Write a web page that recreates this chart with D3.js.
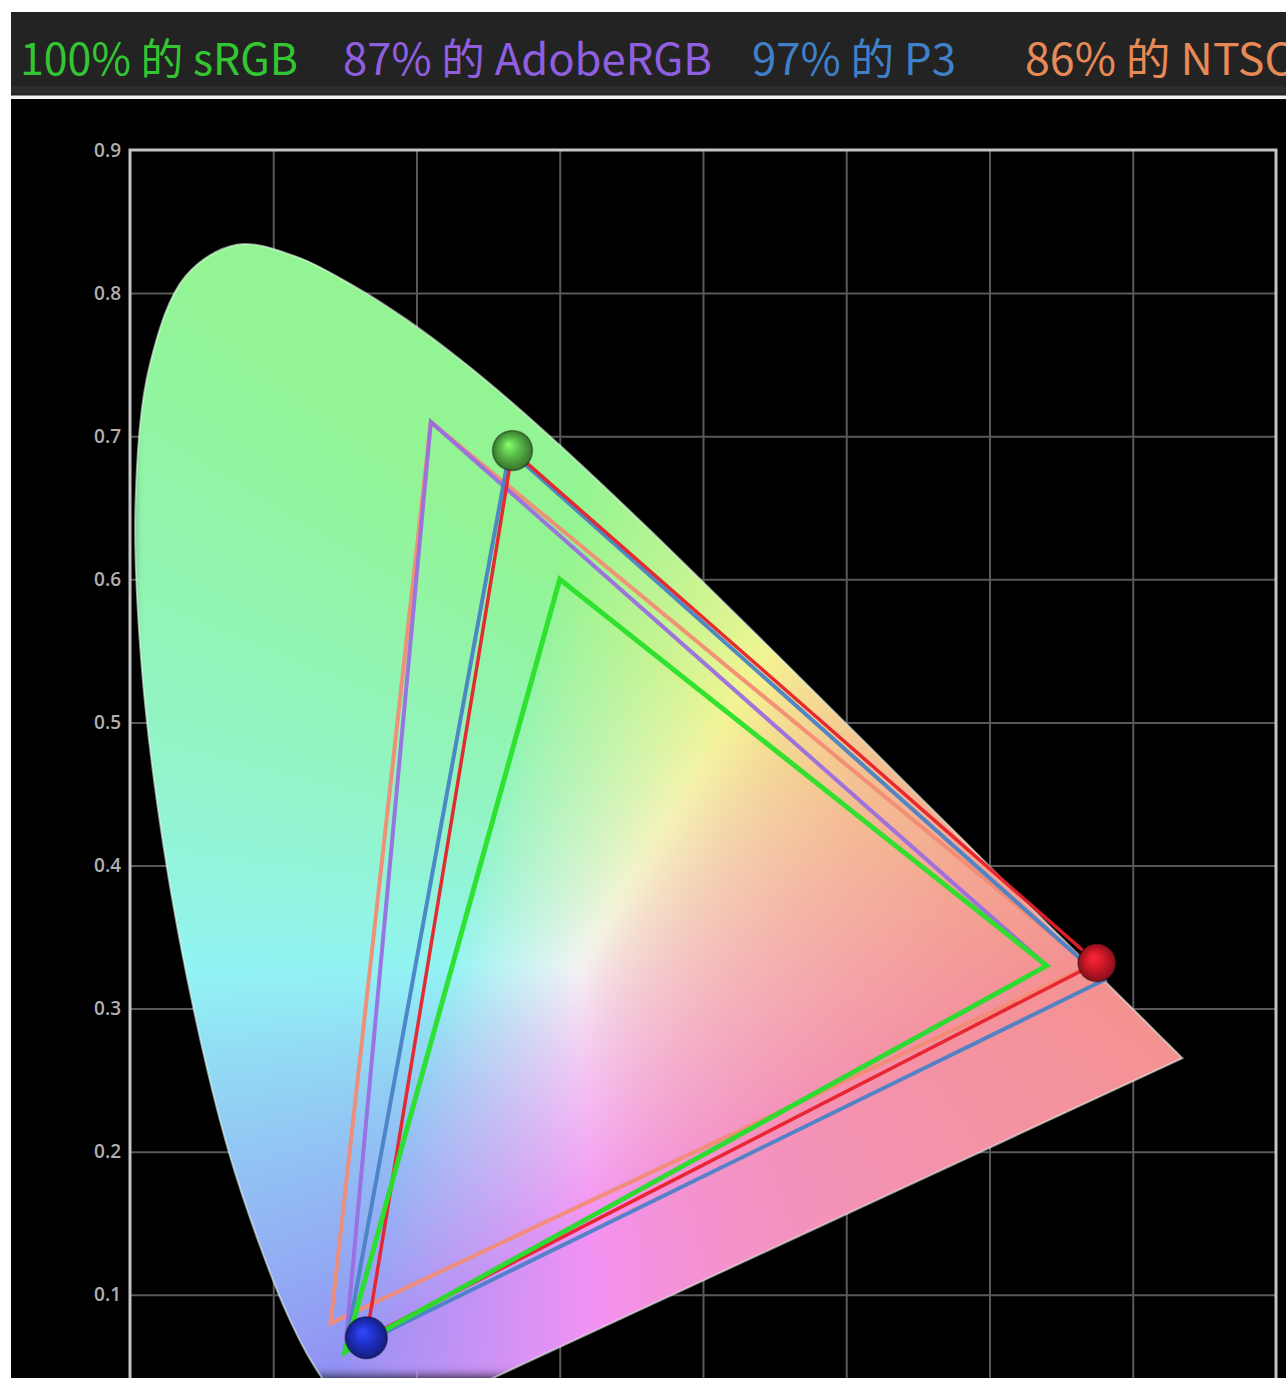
<!DOCTYPE html>
<html>
<head>
<meta charset="utf-8">
<script src="https://cdn.jsdelivr.net/npm/d3@7"></script>
<style>
  html, body { margin: 0; padding: 0; background: #fff; }
  svg { display: block; }
</style>
</head>
<body>
<div id="chart"></div>
<script>
// CIE 1931 2° spectral locus, 380–700 nm in 5 nm steps
const wavelengths = [380,385,390,395,400,405,410,415,420,425,430,435,440,445,450,455,460,465,470,475,480,485,490,495,500,505,510,515,520,525,530,535,540,545,550,555,560,565,570,575,580,585,590,595,600,605,610,615,620,625,630,635,640,645,650,655,660,665,670,675,680,685,690,695,700];
const locusX = [0.1741,0.1740,0.1738,0.1736,0.1733,0.1730,0.1726,0.1721,0.1714,0.1703,0.1689,0.1669,0.1644,0.1611,0.1566,0.1510,0.1440,0.1355,0.1241,0.1096,0.0913,0.0687,0.0454,0.0235,0.0082,0.0039,0.0139,0.0389,0.0743,0.1142,0.1547,0.1929,0.2296,0.2658,0.3016,0.3373,0.3731,0.4087,0.4441,0.4788,0.5125,0.5448,0.5752,0.6029,0.6270,0.6482,0.6658,0.6801,0.6915,0.7006,0.7079,0.7140,0.7190,0.7230,0.7260,0.7283,0.7300,0.7311,0.7320,0.7327,0.7334,0.7340,0.7344,0.7346,0.7347];
const locusY = [0.0050,0.0050,0.0049,0.0049,0.0048,0.0048,0.0048,0.0048,0.0051,0.0058,0.0069,0.0086,0.0109,0.0138,0.0177,0.0227,0.0297,0.0399,0.0578,0.0868,0.1327,0.2007,0.2950,0.4127,0.5384,0.6548,0.7502,0.8120,0.8338,0.8262,0.8059,0.7816,0.7543,0.7243,0.6923,0.6589,0.6245,0.5896,0.5547,0.5202,0.4866,0.4544,0.4242,0.3965,0.3725,0.3514,0.3340,0.3197,0.3083,0.2993,0.2920,0.2859,0.2809,0.2770,0.2740,0.2717,0.2700,0.2689,0.2680,0.2673,0.2666,0.2660,0.2656,0.2654,0.2653];

// Reference gamuts (R, G, B primaries as [x, y])
const gamutNames    = ["sRGB", "AdobeRGB", "P3", "NTSC"];
const gamutCoverage = [100, 87, 97, 86];
const gamutColors   = ["#33c633", "#8f5fe0", "#3f80c8", "#e88a58"];
const gamutStrokes  = ["#28e028", "#9a6ee0", "#4a82c6", "#f28c74"];
const srgbPrimaries  = [[0.64, 0.33], [0.30, 0.60], [0.15, 0.06]];
const adobePrimaries = [[0.64, 0.33], [0.21, 0.71], [0.15, 0.06]];
const p3Primaries    = [[0.68, 0.32], [0.265, 0.69], [0.15, 0.06]];
const ntscPrimaries  = [[0.67, 0.33], [0.21, 0.71], [0.14, 0.08]];

// Measured panel primaries
const panelPrimaries = [[0.675, 0.332], [0.267, 0.690], [0.165, 0.070]];
const panelBallColors = ["#d01828", "#58b848", "#2030c8"];

// Axis ticks
const xTicks = [0.1, 0.2, 0.3, 0.4, 0.5, 0.6, 0.7];
const yTicks = [0.1, 0.2, 0.3, 0.4, 0.5, 0.6, 0.7, 0.8, 0.9];

const W = 1286, H = 1378;
const plot = { left: 130, right: 1276, top: 150 };

const x = d3.scaleLinear().domain([0, 0.8]).range([plot.left, plot.right]);
const y = d3.scaleLinear().domain([0, 0.9]).range([plot.top + 0.9 * 1431, plot.top]);

const svg = d3.select("#chart").append("svg")
  .attr("width", W).attr("height", H)
  .attr("viewBox", `0 0 ${W} ${H}`);

const defs = svg.append("defs");

// page background
svg.append("rect").attr("width", W).attr("height", H).attr("fill", "#ffffff");

// header band with coverage summary
svg.append("rect").attr("x", 11).attr("y", 12).attr("width", W - 11).attr("height", 84).attr("fill", "#232323");
svg.append("rect").attr("x", 11).attr("y", 86).attr("width", W - 11).attr("height", 7).attr("fill", "#2c2c2c");
svg.append("rect").attr("x", 11).attr("y", 99).attr("width", W - 11).attr("height", H - 99).attr("fill", "#000000");
svg.append("line").attr("x1", 11).attr("x2", W).attr("y1", 97).attr("y2", 97)
  .attr("stroke", "#f0f0f0").attr("stroke-width", 3);

const headerX = [20, 343, 752, 1025];
const headerLen = [278, 369, 204, 268];
const header = svg.append("g").attr("class", "header");
gamutNames.forEach((name, i) => {
  header.append("text")
    .attr("x", headerX[i]).attr("y", 75)
    .attr("font-family", "'Noto Sans CJK SC', 'Noto Sans', sans-serif")
    .attr("font-size", 43)
    .attr("fill", gamutColors[i])
    .attr("textLength", headerLen[i])
    .attr("lengthAdjust", "spacingAndGlyphs")
    .text(`${gamutCoverage[i]}% 的 ${name}`);
});

// clip the plot to the framed area
defs.append("clipPath").attr("id", "plotClip")
  .append("rect").attr("x", plot.left).attr("y", plot.top)
  .attr("width", plot.right - plot.left).attr("height", H - plot.top);

const chart = svg.append("g").attr("clip-path", "url(#plotClip)");

// grid lines
const gridColor = "#595959";
chart.append("g").attr("class", "grid-x")
  .attr("transform", `translate(0,${plot.top})`)
  .call(d3.axisBottom(x).tickValues(xTicks).tickSize(H - plot.top).tickFormat(""))
  .call(g => g.select(".domain").remove())
  .call(g => g.selectAll("line").attr("stroke", gridColor).attr("stroke-width", 2));

chart.append("g").attr("class", "grid-y")
  .attr("transform", `translate(${plot.left},0)`)
  .call(d3.axisRight(y).tickValues(yTicks.filter(v => v < 0.9)).tickSize(plot.right - plot.left).tickFormat(""))
  .call(g => g.select(".domain").remove())
  .call(g => g.selectAll("line").attr("stroke", gridColor).attr("stroke-width", 2));

// chromaticity fill: computed per pixel, then clipped to the spectral locus
const locusPts = locusX.map((v, i) => [v, locusY[i]]);
const locusLine = d3.line().x(d => x(d[0])).y(d => y(d[1])).curve(d3.curveCatmullRom.alpha(0.5));
const locusPath = locusLine(locusPts) + "Z";

defs.append("clipPath").attr("id", "locusClip")
  .append("path").attr("d", locusPath);

defs.append("filter").attr("id", "soften")
  .attr("x", "-5%").attr("y", "-5%").attr("width", "110%").attr("height", "110%")
  .append("feGaussianBlur").attr("stdDeviation", 6);

function chromaColor(cx, cy) {
  cy = Math.max(cy, 0.003);
  const X = cx / cy, Y = 1, Z = Math.max(1 - cx - cy, 0) / cy;
  let r = 3.2406 * X - 1.5372 * Y - 0.4986 * Z;
  let g = -0.9689 * X + 1.8758 * Y + 0.0415 * Z;
  let b = 0.0557 * X - 0.2040 * Y + 1.0570 * Z;
  r = Math.max(r, 0); g = Math.max(g, 0); b = Math.max(b, 0);
  const m = Math.max(r, g, b, 1e-6);
  // soft tone curve, then wash toward white for the pastel look
  const w = 0.6, s = 0.955;
  return [r / m, g / m, b / m].map(c => Math.round(255 * s * (w + (1 - w) * Math.pow(c, 0.8))));
}

const box = { x0: plot.left, y0: 200, x1: 1220, y1: H };
const cw = box.x1 - box.x0, ch = box.y1 - box.y0;
const canvas = document.createElement("canvas");
canvas.width = cw; canvas.height = ch;
const ctx = canvas.getContext("2d");
const img = ctx.createImageData(cw, ch);
for (let j = 0; j < ch; j++) {
  const cy = y.invert(box.y0 + j + 0.5);
  for (let i = 0; i < cw; i++) {
    const cx = x.invert(box.x0 + i + 0.5);
    const [r, g, b] = chromaColor(cx, cy);
    const k = 4 * (j * cw + i);
    img.data[k] = r; img.data[k + 1] = g; img.data[k + 2] = b; img.data[k + 3] = 255;
  }
}
ctx.putImageData(img, 0, 0);

const locusGroup = chart.append("g").attr("clip-path", "url(#locusClip)");
locusGroup.append("image")
  .attr("href", canvas.toDataURL("image/png"))
  .attr("x", box.x0).attr("y", box.y0)
  .attr("width", cw).attr("height", ch)
  .attr("filter", "url(#soften)");

chart.append("path").attr("d", locusPath)
  .attr("fill", "none").attr("stroke", "rgba(235,255,240,0.55)").attr("stroke-width", 2);

// gamut triangles
const tri = d3.line().x(d => x(d[0])).y(d => y(d[1]));
const triangles = [
  { pts: ntscPrimaries,  color: gamutStrokes[3], w: 4 },
  { pts: adobePrimaries, color: gamutStrokes[1], w: 4 },
  { pts: p3Primaries,    color: gamutStrokes[2], w: 4 },
  { pts: panelPrimaries, color: "#e8202a",       w: 3.5 },
  { pts: srgbPrimaries,  color: gamutStrokes[0], w: 5 }
];
chart.append("g").attr("class", "gamuts")
  .selectAll("path").data(triangles).join("path")
  .attr("d", d => tri(d.pts) + "Z")
  .attr("fill", "none")
  .attr("stroke", d => d.color)
  .attr("stroke-width", d => d.w)
  .attr("stroke-linejoin", "miter")
  .attr("opacity", 0.95);

// panel primary markers as shaded spheres
const ballRadius = [19, 20, 21];
panelBallColors.forEach((c, i) => {
  const base = d3.color(c);
  const grad = defs.append("radialGradient").attr("id", `ball${i}`)
    .attr("cx", "50%").attr("cy", "50%").attr("r", "55%")
    .attr("fx", "40%").attr("fy", "35%");
  grad.append("stop").attr("offset", "0%").attr("stop-color", base.brighter(1.2).formatHex());
  grad.append("stop").attr("offset", "45%").attr("stop-color", base.formatHex());
  grad.append("stop").attr("offset", "100%").attr("stop-color", base.darker(1.6).formatHex());
});
chart.append("g").attr("class", "panel-primaries")
  .selectAll("circle").data(panelPrimaries).join("circle")
  .attr("cx", d => x(d[0])).attr("cy", d => y(d[1]))
  .attr("r", (d, i) => ballRadius[i])
  .attr("fill", (d, i) => `url(#ball${i})`)
  .attr("stroke", "rgba(0,0,0,0.35)").attr("stroke-width", 1.5);

// frame
const frameColor = "#c4c4c4";
svg.append("path")
  .attr("d", `M${plot.left},${H + 5} V${plot.top} H${plot.right} V${H + 5}`)
  .attr("fill", "none").attr("stroke", frameColor).attr("stroke-width", 3);

// y tick labels
svg.append("g").attr("class", "y-axis")
  .attr("transform", `translate(${plot.left},0)`)
  .call(d3.axisLeft(y).tickValues(yTicks).tickSize(0).tickPadding(9).tickFormat(d3.format(".1f")))
  .call(g => g.select(".domain").remove())
  .call(g => g.selectAll("text")
    .attr("fill", "#b0b0b0")
    .attr("font-family", "'Open Sans', 'Noto Sans', sans-serif")
    .attr("font-weight", 600)
    .attr("font-size", 19));
</script>
</body>
</html>
